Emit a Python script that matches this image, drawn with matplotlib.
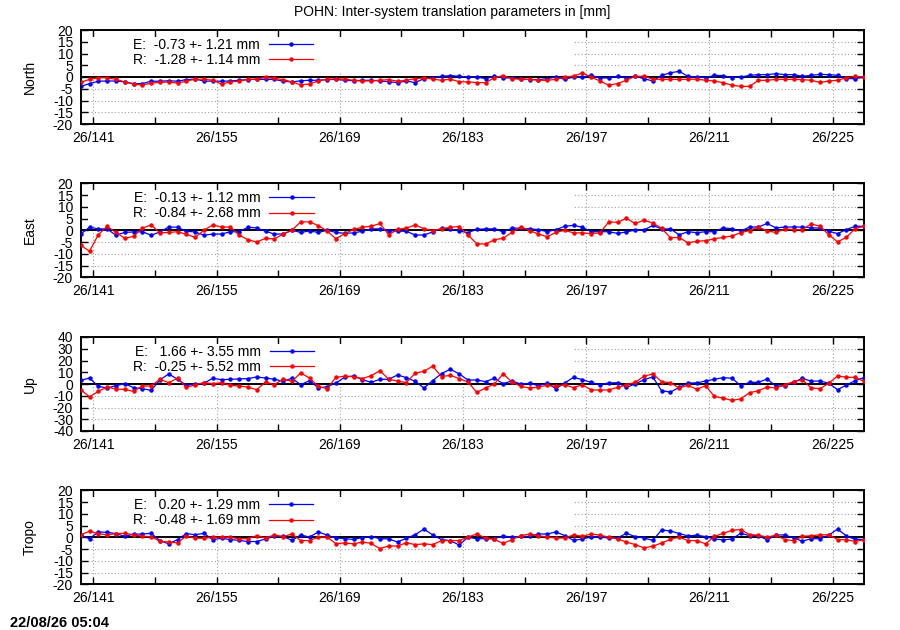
import numpy as np
import matplotlib
matplotlib.use('Agg')  # no display in the sandbox
import matplotlib.pyplot as plt
from matplotlib.patches import Rectangle
from matplotlib.ticker import FixedLocator, MultipleLocator, FuncFormatter

plt.rcParams['font.family'] = ['Liberation Sans', 'DejaVu Sans']
plt.rcParams['font.size'] = 10
plt.rcParams['axes.unicode_minus'] = False

# daily solutions, day of year 2026
first_day = 139.57
days = first_day + np.arange(90)

north_e = [-4.0, -2.8, -1.8, -1.7, -1.7, -2.1, -2.8, -2.8, -1.8, -1.8,
           -1.6, -1.8, -1.1, -0.9, -1.7, -1.8, -1.8, -1.7, -1.4, -1.1,
           -1.0, -1.0, -1.0, -1.8, -2.1, -1.6, -1.4, -1.4, -1.1, -1.0,
           -1.4, -1.6, -1.4, -1.4, -1.7, -2.0, -2.4, -1.7, -2.4, -0.7,
           -0.3, 0.3, 0.6, 0.3, 0.0, 0.0, -0.7, 0.3, -0.4, -0.4,
           -0.7, -1.1, -1.1, -0.7, 0.0, -1.0, 0.0, 0.0, 0.7, -0.4,
           -0.4, 0.3, -0.4, 0.3, -0.7, -1.7, 0.7, 1.8, 2.4, 0.3,
           0.0, -0.3, 0.7, 0.6, -0.3, 0.0, 0.7, 1.0, 1.0, 1.4,
           1.0, 1.0, 0.3, 0.7, 1.1, 1.0, 0.7, -0.7, -0.7, 0.0]
north_r = [-2.3, -1.0, -0.3, -0.3, -1.0, -2.1, -3.0, -3.4, -2.6, -2.3,
           -2.1, -2.6, -1.8, -0.9, -0.9, -1.4, -3.0, -2.1, -1.8, -1.0,
           -0.9, -0.1, -0.6, -1.1, -2.1, -3.3, -3.0, -1.6, -1.0, -0.7,
           -0.9, -1.4, -1.8, -1.6, -1.4, -1.1, -1.8, -1.4, -0.7, -0.4,
           -0.9, -1.4, -0.9, -2.0, -2.1, -2.4, -2.4, -0.3, 0.6, -0.7,
           -1.0, -1.0, -1.4, -1.4, -1.0, 0.0, 0.4, 1.7, 0.0, -1.7,
           -3.5, -2.8, -1.4, 0.3, 0.3, -0.9, -1.0, -1.0, -1.0, -1.0,
           -0.9, -1.4, -1.7, -2.4, -3.5, -4.0, -4.0, -1.4, -1.4, -1.0,
           -1.0, -1.0, -1.1, -1.4, -2.3, -1.7, -1.4, -0.3, 0.3, 0.0]

east_e = [-1.6, 1.3, 0.6, 0.6, -2.1, -0.9, -0.7, -0.6, -2.1, -0.7,
          1.4, 1.3, -0.4, -0.7, -2.1, -1.6, -1.6, -0.6, -0.6, 1.3,
          1.0, -0.4, -1.6, -1.6, 0.0, -0.9, -0.3, -0.9, 0.0, -0.9,
          -1.3, -1.1, -0.4, 0.6, 0.6, -0.1, -0.4, -0.4, -2.0, -2.0,
          -0.7, 0.9, 0.6, -0.3, -1.0, 0.4, 0.6, 0.6, -0.7, 0.9,
          0.9, 0.6, 0.3, -0.6, 0.3, 1.7, 2.1, 1.3, -0.6, -0.6,
          -0.6, -1.3, -0.7, 0.1, 0.1, 2.1, 0.6, 0.6, -1.9, -0.6,
          -1.0, -0.6, -0.6, 1.0, 0.7, -0.3, 1.4, 1.4, 2.9, 1.0,
          1.4, 1.4, 1.4, 1.1, 0.9, -0.4, -1.4, 0.3, 1.7, 1.7]
east_r = [-6.4, -8.9, -1.9, 1.7, -0.9, -3.4, -2.6, 0.9, 2.3, -1.1,
          -0.9, -0.6, -1.7, -3.0, 0.0, 2.3, 1.4, 1.4, -2.0, -4.0,
          -5.0, -3.4, -3.7, -1.6, 0.0, 3.6, 3.6, 2.0, -0.3, -3.6,
          -1.4, 0.4, 1.3, 1.7, 2.9, -1.9, 0.4, 0.9, 2.3, 0.7,
          -0.1, 0.6, 1.3, 1.6, -2.0, -5.7, -5.9, -4.0, -3.4, -0.9,
          1.4, -0.1, -1.6, -2.7, -0.9, 0.0, -1.1, -1.1, -1.4, -1.1,
          3.6, 3.4, 5.1, 2.9, 4.3, 3.1, 0.9, -3.1, -3.1, -5.3,
          -4.7, -4.4, -3.6, -3.0, -2.4, -1.0, -0.1, 1.4, -0.3, -0.9,
          0.6, 0.3, 0.3, 2.7, 1.7, -1.9, -4.9, -3.0, 0.7, 1.7]

up_e = [3.1, 5.1, -2.0, -3.4, -1.4, 0.3, -3.1, -4.0, -5.4, 3.4,
        8.6, 4.0, -1.1, 0.0, 0.6, 4.9, 3.7, 4.0, 4.3, 4.6,
        6.0, 5.1, 4.0, 2.3, 4.9, -0.6, 2.9, -3.4, -2.3, 0.9,
        5.7, 6.9, 3.7, 1.4, 4.0, 4.0, 7.7, 5.4, 2.3, -3.4,
        2.9, 8.9, 12.6, 8.6, 3.4, 3.4, 2.0, 4.9, 0.3, 2.6,
        0.0, 0.6, -1.4, 0.6, -4.0, 0.9, 5.7, 3.7, 1.4, -0.6,
        0.9, 1.1, -2.9, 0.0, 3.7, 6.0, -5.7, -6.9, -2.9, 0.9,
        0.9, 2.6, 4.0, 5.4, 4.9, -1.4, 1.4, 1.4, 4.3, -2.0,
        -1.4, 1.4, 4.9, 2.3, 2.6, 0.6, -4.9, -0.9, 2.9, 5.4]
up_r = [-4.9, -10.9, -6.3, -2.6, -4.3, -4.6, -6.3, -1.7, -1.7, 4.0,
        1.1, 4.9, -2.9, -0.6, 1.1, 0.3, 1.1, -1.1, -1.7, -2.6,
        -4.9, 1.7, -0.6, 4.3, 2.3, 9.4, 5.1, -2.0, -4.0, 5.7,
        6.6, 6.3, 4.6, 7.1, 11.4, 4.0, 2.6, 1.1, 9.1, 10.9,
        15.1, 6.3, 7.4, 4.6, 1.7, -7.1, -3.4, 0.0, 8.6, 1.7,
        -2.0, -3.4, -2.6, -1.1, -2.0, -0.6, -3.1, -0.6, -5.1, -5.1,
        -5.1, -2.9, -0.6, 1.4, 6.6, 8.6, 2.0, 1.1, -3.4, -1.1,
        -4.6, -1.4, -10.6, -12.0, -14.0, -12.6, -7.4, -5.7, -2.6, -3.4,
        -0.6, 2.0, 3.7, -3.4, -4.0, 0.6, 6.9, 5.7, 5.7, 2.3]

tropo_e = [0.9, -0.6, 2.3, 2.1, 1.6, 0.4, 1.3, 1.4, 1.7, -1.4,
           -2.8, -1.0, 1.6, 1.1, 1.7, -1.0, -0.4, -1.0, -1.3, -1.8,
           -1.8, -0.7, 0.4, 0.4, -1.3, 1.0, 0.1, 2.3, 0.9, -0.3,
           -0.6, -0.9, -0.1, 0.3, -0.6, -0.7, -2.0, -0.4, 1.1, 3.5,
           1.0, -1.0, -1.4, -3.3, 0.0, -0.6, -0.6, -0.6, 0.6, 0.0,
           0.4, 0.4, 1.4, 1.4, 2.3, 0.7, -1.3, -0.7, 0.1, 0.1,
           -0.3, -0.3, 1.7, 0.3, -0.3, -1.3, 3.1, 2.7, 1.6, 0.6,
           0.9, 0.3, -0.7, -1.1, -0.7, 1.7, 0.7, 0.7, -1.1, 1.0,
           1.0, -0.3, -1.6, -0.6, -0.6, 0.9, 3.5, 0.6, -0.9, -1.0]
tropo_r = [1.0, 2.6, 1.6, 1.0, 1.6, 1.7, 1.1, 0.4, 0.3, -1.7,
           -2.0, -2.4, 0.6, -0.4, -0.4, 0.0, 0.1, 0.0, -0.6, -0.6,
           0.7, -0.3, 1.0, 0.3, 1.4, -1.4, -1.4, 0.1, 0.1, -2.7,
           -2.4, -2.8, -2.0, -2.6, -4.8, -3.7, -3.7, -2.3, -3.1, -2.8,
           -3.1, -1.4, -1.4, -1.4, 0.1, 1.4, -0.3, -0.9, -2.6, -1.0,
           0.7, 1.4, 0.7, 0.1, -0.3, -0.3, 1.0, 0.4, 1.4, 0.9,
           0.1, -0.7, -2.0, -3.1, -4.5, -3.8, -2.4, -0.9, 0.1, -1.4,
           -1.4, -2.8, 0.4, 1.7, 3.0, 3.3, 1.1, 0.9, 0.1, 0.9,
           -1.0, -1.4, 0.4, 0.7, 1.0, 1.1, -1.0, -1.0, -1.8, -1.0]

panel_names = ['North', 'East', 'Up', 'Tropo']
e_labels = ['E:  -0.73 +- 1.21 mm', 'E:  -0.13 +- 1.12 mm',
            'E:   1.66 +- 3.55 mm', 'E:   0.20 +- 1.29 mm']
r_labels = ['R:  -1.28 +- 1.14 mm', 'R:  -0.84 +- 2.68 mm',
            'R:  -0.25 +- 5.52 mm', 'R:  -0.48 +- 1.69 mm']
y_limits = [20, 20, 40, 20]
y_steps = [5, 5, 10, 5]

major_days = [141, 155, 169, 183, 197, 211, 225]
minor_days = [148, 162, 176, 190, 204, 218]

title = 'POHN: Inter-system translation parameters in [mm]'
stamp = '22/08/26 05:04'

fig = plt.figure(figsize=(9, 6.3), dpi=100)

panel_left = 80.7 / 900
panel_width = (864 - 80.7) / 900
panel_height = 94 / 630
panel_bottoms = [124, 277.3, 431, 584.3]  # pixel row of lower border

series = [(north_e, north_r), (east_e, east_r), (up_e, up_r), (tropo_e, tropo_r)]

for k, name in enumerate(panel_names):
    bottom = 1 - panel_bottoms[k] / 630
    ax = fig.add_axes([panel_left, bottom, panel_width, panel_height])
    e_vals, r_vals = series[k]
    lim = y_limits[k]

    ax.set_xlim(days[0], days[-1])
    ax.set_ylim(-lim, lim)
    ax.xaxis.set_major_locator(FixedLocator(major_days))
    ax.xaxis.set_minor_locator(FixedLocator(minor_days))
    ax.xaxis.set_major_formatter(FuncFormatter(lambda v, p: '26/%d' % round(v)))
    ax.yaxis.set_major_locator(MultipleLocator(y_steps[k]))
    ax.tick_params(which='both', direction='in', top=True, right=True,
                   length=5, width=1, labelsize=10)
    ax.tick_params(axis='x', pad=5)
    ax.tick_params(axis='y', pad=5.5)
    for sp in ax.spines.values():
        sp.set_linewidth(1.4)

    ax.set_axisbelow(True)
    ax.grid(True, which='major', linestyle=(0, (1, 2)), color='#a0a0a0', linewidth=0.8)

    # key area blanks the grid, like gnuplot does
    ax.add_patch(Rectangle((0.009, 0.553), 0.619, 0.373, transform=ax.transAxes,
                           facecolor='white', edgecolor='none', zorder=1))
    ax.axhline(0, color='black', linewidth=1.4, zorder=1.5)

    ax.plot(days, e_vals, color='#0000ff', linewidth=0.9, marker='o',
            markersize=2.2, label=e_labels[k], zorder=3)
    ax.plot(days, r_vals, color='#ff0000', linewidth=0.9, marker='o',
            markersize=2.2, label=r_labels[k], zorder=3)

    ax.legend(loc='upper left', bbox_to_anchor=(0.0664, 0.918), frameon=False,
              markerfirst=False, handlelength=3.17, handletextpad=0.65,
              labelspacing=0.1, borderpad=0, borderaxespad=0, fontsize=10)

    fig.text(30 / 900, bottom + panel_height / 2, name, rotation=90,
             ha='center', va='center', fontsize=10)

fig.text(0.502, 1 - 12 / 630, title, ha='center', va='center', fontsize=10)
fig.text(10 / 900, 1 - 623 / 630, stamp, ha='left', va='center',
         fontsize=10.5, fontweight='bold')

fig.savefig('out.png', dpi=100)
